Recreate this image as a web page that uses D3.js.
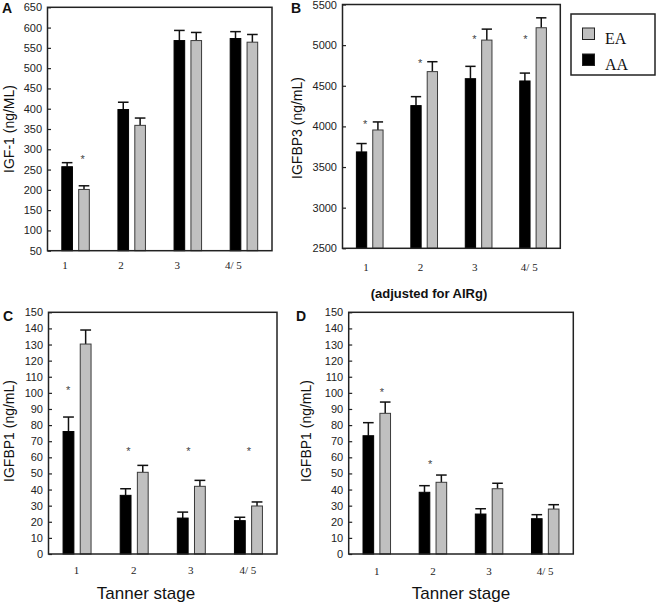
<!DOCTYPE html>
<html>
<head>
<meta charset="utf-8">
<script src="https://cdn.jsdelivr.net/npm/d3@7"></script>
<style>
  body { margin: 0; background: #fff; }
  svg { display: block; }
</style>
</head>
<body>
<svg id="chart" width="656" height="607"></svg>
<script>
// ---------- DATA ----------
const categories = ["1", "2", "3", "4/ 5"];
const seriesNames = ["AA", "EA"];
const legendOrder = ["EA", "AA"];

// Panel A: IGF-1 (ng/ML)
const igf1AA    = [257, 398, 568, 573];
const igf1AAErr = [10, 18, 25, 17];
const igf1EA    = [201, 359, 568, 564];
const igf1EAErr = [9, 18, 20, 19];
const igf1Ticks = [50, 100, 150, 200, 250, 300, 350, 400, 450, 500, 550, 600, 650];
const igf1StarCats = ["1"];
const igf1StarVals = [282];

// Panel B: IGFBP3 (ng/mL), adjusted for AIRg
const bp3AA    = [3686, 4256, 4587, 4559];
const bp3AAErr = [103, 110, 152, 97];
const bp3EA    = [3956, 4674, 5062, 5214];
const bp3EAErr = [99, 122, 135, 122];
const bp3Ticks = [2500, 3000, 3500, 4000, 4500, 5000, 5500];
const bp3StarCats = ["1", "2", "3", "4/ 5"];
const bp3StarVals = [4058, 4809, 5104, 5104];

// Panel C: IGFBP1 (ng/mL)
const bp1AA    = [76, 36.4, 22.3, 20.7];
const bp1AAErr = [9, 4.1, 3.7, 2.1];
const bp1EA    = [130.3, 50.7, 42, 29.8];
const bp1EAErr = [8.7, 4.3, 3.7, 2.5];
const bp1Ticks = [0, 10, 20, 30, 40, 50, 60, 70, 80, 90, 100, 110, 120, 130, 140, 150];
const bp1StarCats = ["1", "2", "3", "4/ 5"];
const bp1StarVals = [103, 65, 65, 65];

// Panel D: IGFBP1 (ng/mL), adjusted for AIRg
const bp1AdjAA    = [73.4, 38.3, 24.8, 21.9];
const bp1AdjAAErr = [8.1, 4.1, 3.3, 2.5];
const bp1AdjEA    = [87.3, 44.5, 40.5, 27.9];
const bp1AdjEAErr = [7, 4.5, 3.4, 2.7];
const bp1AdjStarCats = ["1", "2"];
const bp1AdjStarVals = [102, 57];

// ---------- LAYOUT ----------
const panels = [
  { letter: "A", title: "IGF-1 (ng/ML)", aa: igf1AA, aaErr: igf1AAErr, ea: igf1EA, eaErr: igf1EAErr,
    ticks: igf1Ticks, starCats: igf1StarCats, starVals: igf1StarVals,
    x0: 47.5, x1: 272, y0: 7.3, y1: 250.7, labelFrac: 0.31, labelPad: 10.5,
    starFrac: [0.627], letterX: 2, letterY: 13, titleX: 9, titleY: 129 },
  { letter: "B", title: "IGFBP3 (ng/mL)", aa: bp3AA, aaErr: bp3AAErr, ea: bp3EA, eaErr: bp3EAErr,
    ticks: bp3Ticks, starCats: bp3StarCats, starVals: bp3StarVals,
    x0: 342.5, x1: 560.3, y0: 4.5, y1: 248.3, labelFrac: 0.43, labelPad: 14.6,
    starFrac: [0.414, 0.427, 0.42, 0.36], letterX: 291, letterY: 13, titleX: 297, titleY: 128 },
  { letter: "C", title: "IGFBP1 (ng/mL)", aa: bp1AA, aaErr: bp1AAErr, ea: bp1EA, eaErr: bp1EAErr,
    ticks: bp1Ticks, starCats: bp1StarCats, starVals: bp1StarVals,
    x0: 48.5, x1: 277, y0: 312.3, y1: 554, labelFrac: 0.49, labelPad: 12.2,
    starFrac: [0.346, 0.40, 0.45, 0.51], letterX: 3, letterY: 321, titleX: 9, titleY: 431 },
  { letter: "D", title: "IGFBP1 (ng/mL)", aa: bp1AdjAA, aaErr: bp1AdjAAErr, ea: bp1AdjEA, eaErr: bp1AdjEAErr,
    ticks: bp1Ticks, starCats: bp1AdjStarCats, starVals: bp1AdjStarVals,
    x0: 348.7, x1: 573.3, y0: 312.3, y1: 554, labelFrac: 0.5, labelPad: 12.9,
    starFrac: [0.589, 0.45], letterX: 296, letterY: 321, titleX: 306, titleY: 431 }
];

const colors = { AA: "#000000", EA: "#c0c0c0" };
const strokes = { AA: "#000000", EA: "#3a3a3a" };
const sans = "Arial, 'Liberation Sans', Helvetica, sans-serif";
const serif = "'Times New Roman', 'Liberation Serif', Times, serif";

const svg = d3.select("#chart");

panels.forEach(p => {
  const g = svg.append("g");
  const x = d3.scaleBand().domain(categories).range([p.x0, p.x1]).paddingInner(0).paddingOuter(0);
  const bw = x.bandwidth();
  const inner = d3.scaleBand().domain(seriesNames).range([bw * 0.255, bw * 0.745]).paddingInner(0.37).paddingOuter(0);
  const yMin = d3.min(p.ticks), yMax = d3.max(p.ticks);
  const y = d3.scaleLinear().domain([yMin, yMax]).range([p.y1, p.y0]);

  const rows = [];
  categories.forEach((c, i) => {
    rows.push({ cat: c, s: "AA", v: p.aa[i], e: p.aaErr[i] });
    rows.push({ cat: c, s: "EA", v: p.ea[i], e: p.eaErr[i] });
  });

  // error bars
  const eg = g.append("g");
  rows.forEach(r => {
    const bx = x(r.cat) + inner(r.s);
    const cx = bx + inner.bandwidth() / 2;
    const top = y(r.v + r.e);
    eg.append("line").attr("x1", cx).attr("x2", cx).attr("y1", y(r.v)).attr("y2", top)
      .attr("stroke", "#111").attr("stroke-width", 1.5);
    eg.append("line").attr("x1", bx).attr("x2", bx + inner.bandwidth()).attr("y1", top).attr("y2", top)
      .attr("stroke", "#111").attr("stroke-width", 1.5);
  });

  // bars
  g.append("g").selectAll("rect").data(rows).join("rect")
    .attr("x", d => x(d.cat) + inner(d.s))
    .attr("y", d => y(d.v))
    .attr("width", inner.bandwidth())
    .attr("height", d => y(yMin) - y(d.v))
    .attr("fill", d => colors[d.s])
    .attr("stroke", d => strokes[d.s])
    .attr("stroke-width", 1);

  // y axis with inward ticks
  const ya = g.append("g").attr("transform", `translate(${p.x0},0)`)
    .call(d3.axisLeft(y).tickValues(p.ticks).tickSizeInner(-3.5).tickSizeOuter(0).tickPadding(5.5).tickFormat(d3.format("d")));
  ya.select(".domain").remove();
  ya.selectAll("line").attr("stroke", "#222").attr("stroke-width", 1.2);
  ya.selectAll("text").attr("font-family", sans).attr("font-size", 11).attr("fill", "#222");

  // x axis labels
  const xa = g.append("g").attr("transform", `translate(0,${p.y1})`)
    .call(d3.axisBottom(x).tickSize(0).tickPadding(p.labelPad));
  xa.select(".domain").remove();
  xa.selectAll("text").attr("font-family", serif).attr("font-size", 11).attr("fill", "#222")
    .attr("dx", (p.labelFrac - 0.5) * bw);

  // frame
  g.append("rect").attr("x", p.x0).attr("y", p.y0).attr("width", p.x1 - p.x0).attr("height", p.y1 - p.y0)
    .attr("fill", "none").attr("stroke", "#222").attr("stroke-width", 1.5);

  // significance stars
  p.starCats.forEach((c, i) => {
    g.append("text").attr("x", x(c) + p.starFrac[i] * bw).attr("y", y(p.starVals[i]) + 6)
      .attr("text-anchor", "middle").attr("font-family", sans).attr("font-size", 11).attr("fill", "#444")
      .text("*");
  });

  // panel letter
  g.append("text").attr("x", p.letterX).attr("y", p.letterY).attr("font-family", sans)
    .attr("font-weight", "bold").attr("font-size", 14).attr("fill", "#111").text(p.letter);

  // y title
  g.append("text").attr("transform", `translate(${p.titleX},${p.titleY}) rotate(-90)`)
    .attr("text-anchor", "middle").attr("dominant-baseline", "central")
    .attr("font-family", sans).attr("font-size", 14).attr("fill", "#111").text(p.title);
});

// extra labels
svg.append("text").attr("x", 429).attr("y", 298).attr("text-anchor", "middle")
  .attr("font-family", sans).attr("font-weight", "bold").attr("font-size", 13).attr("fill", "#111")
  .text("(adjusted for AIRg)");
svg.append("text").attr("x", 146).attr("y", 599).attr("text-anchor", "middle")
  .attr("font-family", sans).attr("font-size", 17).attr("fill", "#111").text("Tanner stage");
svg.append("text").attr("x", 461).attr("y", 599).attr("text-anchor", "middle")
  .attr("font-family", sans).attr("font-size", 17).attr("fill", "#111").text("Tanner stage");

// legend
const lg = svg.append("g");
lg.append("rect").attr("x", 571).attr("y", 14).attr("width", 84).attr("height", 61)
  .attr("fill", "#fff").attr("stroke", "#222").attr("stroke-width", 1.5);
legendOrder.forEach((s, i) => {
  const yy = 28 + i * 26;
  lg.append("rect").attr("x", 582.5).attr("y", yy).attr("width", 12).attr("height", 11.5)
    .attr("fill", colors[s]).attr("stroke", "#222").attr("stroke-width", 1);
  lg.append("text").attr("x", 605).attr("y", yy + 16).attr("font-family", serif)
    .attr("font-size", 16).attr("fill", "#111").text(s);
});
</script>
</body>
</html>
